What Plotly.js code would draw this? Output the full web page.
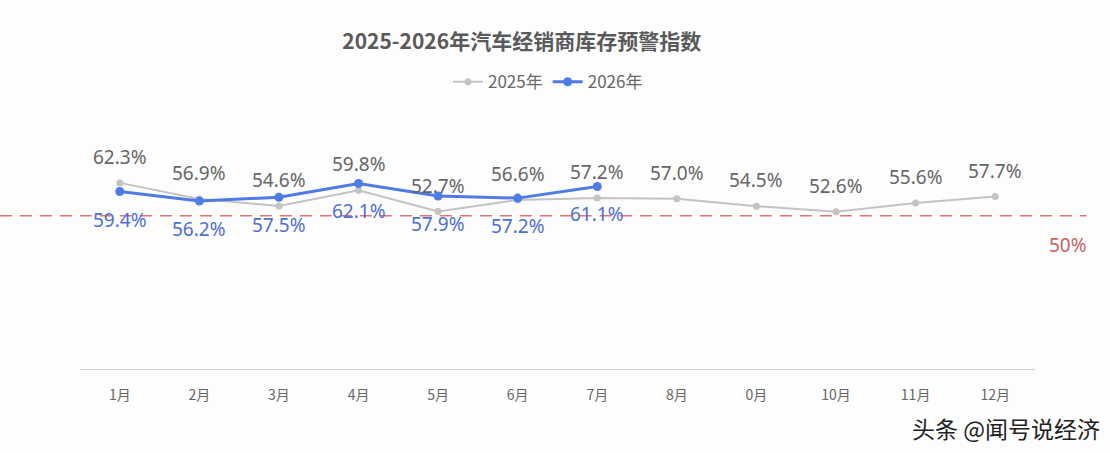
<!DOCTYPE html>
<html>
<head>
<meta charset="utf-8">
<script src="https://cdn.plot.ly/plotly-3.0.1.min.js"></script>
<style>html,body{margin:0;padding:0;background:#fdfdfd;}#chart{width:1110px;height:453px;}</style>
</head>
<body>
<div id="chart"></div>
<script>
var months = ['1月','2月','3月','4月','5月','6月','7月','8月','0月','10月','11月','12月'];
var values2025 = [62.3, 56.9, 54.6, 59.8, 52.7, 56.6, 57.2, 57.0, 54.5, 52.6, 55.6, 57.7];
var months2026 = ['1月','2月','3月','4月','5月','6月','7月'];
var values2026 = [59.4, 56.2, 57.5, 62.1, 57.9, 57.2, 61.1];
var warningLabel = '50%';
var warningLevel = 51.3; // position of dashed line

var FONT = 'Noto Sans, Noto Sans CJK SC, sans-serif';
var gray = '#c3c3c3', grayText = '#666666';
var blue = '#4f7be6', blueText = '#4f6ed6';

var traces = [
  {x: months, y: values2025, name: '2025年', type: 'scatter', mode: 'lines+markers',
   line: {color: gray, width: 2}, marker: {color: gray, size: 7}},
  {x: months2026, y: values2026, name: '2026年', type: 'scatter', mode: 'lines+markers',
   line: {color: blue, width: 3}, marker: {color: blue, size: 9}}
];

var annotations = [];
months.forEach(function(m, i){
  annotations.push({x: m, y: values2025[i], xref: 'x', yref: 'y', text: values2025[i].toFixed(1) + '%',
    showarrow: false, yshift: 26, font: {family: FONT, size: 19, color: grayText}});
});
months2026.forEach(function(m, i){
  annotations.push({x: m, y: values2026[i], xref: 'x', yref: 'y', text: values2026[i].toFixed(1) + '%',
    showarrow: false, yshift: -28, font: {family: FONT, size: 19, color: blueText}});
});
annotations.push({x: 1.035, y: warningLevel, xref: 'paper', yref: 'y', text: warningLabel, showarrow: false,
  yshift: -29, xanchor: 'center', font: {family: FONT, size: 19, color: '#c9605f'}});
annotations.push({x: 1.07, y: -0.245, xref: 'paper', yref: 'paper', text: '头条 @闻号说经济', showarrow: false,
  xanchor: 'right', yanchor: 'middle', font: {family: 'Noto Sans CJK SC, sans-serif', size: 23, color: '#222222'}});

var layout = {
  width: 1110, height: 453,
  paper_bgcolor: '#fdfdfd', plot_bgcolor: '#fdfdfd',
  margin: {l: 80, r: 75, t: 130, b: 84},
  title: {text: '<b>2025-2026年汽车经销商库存预警指数</b>', x: 0.47, xanchor: 'center', y: 0.907, yanchor: 'middle',
    font: {family: 'Noto Sans CJK SC, sans-serif', size: 21, color: '#5a5a5a'}},
  showlegend: true,
  legend: {orientation: 'h', x: 0.49, xanchor: 'center', y: 1.2, yanchor: 'middle',
    font: {family: 'Noto Sans CJK SC, sans-serif', size: 17, color: '#666666'}, bgcolor: 'rgba(0,0,0,0)'},
  xaxis: {type: 'category', categoryorder: 'array', categoryarray: months, range: [-0.5, 11.5],
    showgrid: false, zeroline: false, showline: true, linecolor: '#d0d0d0', linewidth: 1,
    ticks: 'outside', ticklen: 13, tickcolor: 'rgba(0,0,0,0)',
    tickfont: {family: 'Noto Sans CJK SC, sans-serif', size: 14, color: '#666666'}},
  yaxis: {range: [0, 80], showgrid: false, zeroline: false, showline: false, showticklabels: false, ticks: ''},
  shapes: [{type: 'line', xref: 'paper', yref: 'y', x0: -0.084, x1: 1.054, y0: warningLevel, y1: warningLevel,
    line: {color: '#e07575', width: 1.5, dash: '12px,8px'}}],
  annotations: annotations
};

Plotly.newPlot('chart', traces, layout, {displayModeBar: false, staticPlot: true});
</script>
</body>
</html>
